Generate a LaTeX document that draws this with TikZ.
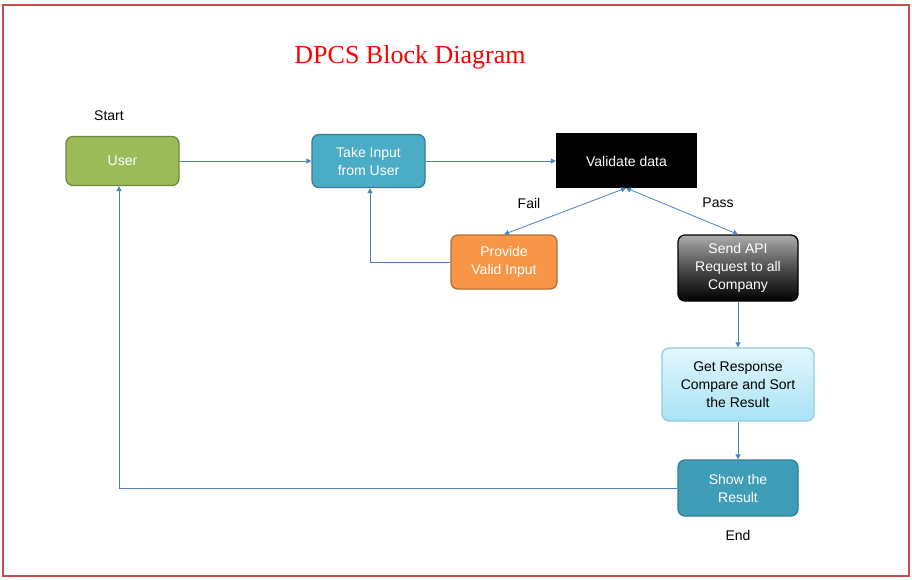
\documentclass[tikz,border=0pt]{standalone}
\usepackage{fontspec}
\setmainfont{Liberation Sans}
\newfontfamily\titlefont{Liberation Serif}
\usetikzlibrary{arrows.meta,shadings}
\definecolor{frame}{HTML}{C0504D}
\definecolor{conn}{HTML}{4F81BD}
\definecolor{ugreen}{HTML}{9BBB59}
\definecolor{ugreenb}{HTML}{71893F}
\definecolor{aqua}{HTML}{4BACC6}
\definecolor{aquab}{HTML}{357D91}
\definecolor{aquad}{HTML}{3F9DB7}
\definecolor{orng}{HTML}{F79646}
\definecolor{orngb}{HTML}{B66D31}
\definecolor{ltop}{HTML}{E2F6FD}
\definecolor{lbot}{HTML}{A8E3F6}
\definecolor{lbrd}{HTML}{93CDDD}
\tikzset{
  x=1pt,y=-1pt,
  box/.style={rounded corners=7pt, draw, line width=1.3pt, align=center,
    text=white, font=\fontsize{14}{18}\selectfont, inner sep=0pt},
  lbl/.style={font=\fontsize{14}{18}\selectfont, text=black},
  conn/.style={draw=conn, line width=0.8pt, -{Triangle[length=5pt,width=5pt]}},
  conn2/.style={draw=conn, line width=0.8pt, {Triangle[length=5pt,width=5pt]}-{Triangle[length=5pt,width=5pt]}},
}
\begin{document}
\begin{tikzpicture}
\useasboundingbox (0,0) rectangle (912,580);
\fill[white] (0,0) rectangle (912,580);
\draw[frame, line width=1.6pt] (3,5) rectangle (909,576);
\node[font=\titlefont\fontsize{26}{30}\selectfont, text=red] (title) at (410,57) {DPCS Block Diagram};
\node[lbl] (start) at (109,116) {Start};
\node[lbl] (fail) at (529,203) {Fail};
\node[lbl] (pass) at (718,203) {Pass};
\node[lbl] (end) at (738,535) {End};

\node[box, fill=ugreen, draw=ugreenb, minimum width=113pt, minimum height=49pt] (user) at (122.5,161) {User};
\node[box, fill=aqua, draw=aquab, minimum width=113pt, minimum height=53pt] (take) at (368.5,161) {Take Input\\from User};
\node[fill=black, text=white, minimum width=141pt, minimum height=55pt, inner sep=0pt, font=\fontsize{14}{18}\selectfont] (valid) at (626.5,161) {Validate data};
\node[box, fill=orng, draw=orngb, minimum width=106pt, minimum height=54pt] (prov) at (504,262) {Provide\\Valid Input};
\node[box, top color=gray!65, bottom color=black, middle color=gray!60!black, draw=black, minimum width=120pt, minimum height=66pt] (send) at (738,268) {Send API\\Request to all\\Company};
\node[box, top color=ltop, bottom color=lbot, draw=lbrd, text=black, minimum width=152pt, minimum height=73pt] (resp) at (738,384.5) {Get Response\\Compare and Sort\\the Result};
\node[box, fill=aquad, draw=aquab, minimum width=120pt, minimum height=56pt] (show) at (738,488) {Show the\\Result};

\coordinate (vb) at (626,188);
\coordinate (c1) at (370,262);
\coordinate (c2) at (119,488);

\draw[conn] (user.east) -- (take.west);
\draw[conn] (take.east) -- (valid.west);
\draw[conn2] (prov.north) -- (vb);
\draw[conn2] (send.north) -- (vb);
\draw[conn] (prov.west) -- (c1) -- (c1 |- take.south);
\draw[conn] (send.south) -- (resp.north);
\draw[conn] (resp.south) -- (show.north);
\draw[conn] (show.west) -- (c2) -- (c2 |- user.south);
\end{tikzpicture}
\end{document}
